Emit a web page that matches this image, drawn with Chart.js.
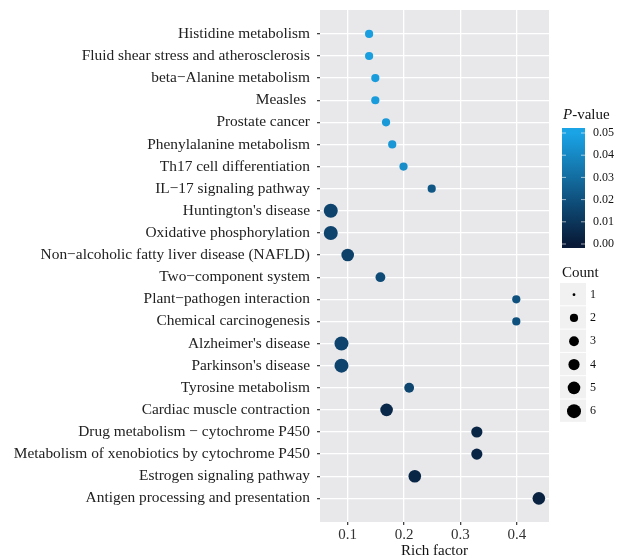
<!DOCTYPE html>
<html>
<head>
<meta charset="utf-8">
<script src="https://cdn.jsdelivr.net/npm/chart.js@4.4.0/dist/chart.umd.min.js"></script>
<style>
  html, body { margin: 0; padding: 0; background: #ffffff; }
  #wrap { width: 624px; height: 560px; position: relative; }
</style>
</head>
<body>
<div id="wrap"><canvas id="dotChart" width="624" height="560"></canvas></div>
<script>
// pathways, top to bottom
const pathways = [
    "Histidine metabolism",
    "Fluid shear stress and atherosclerosis",
    "beta\u2212Alanine metabolism",
    "Measles ",
    "Prostate cancer",
    "Phenylalanine metabolism",
    "Th17 cell differentiation",
    "IL\u221217 signaling pathway",
    "Huntington's disease",
    "Oxidative phosphorylation",
    "Non\u2212alcoholic fatty liver disease (NAFLD)",
    "Two\u2212component system",
    "Plant\u2212pathogen interaction",
    "Chemical carcinogenesis",
    "Alzheimer's disease",
    "Parkinson's disease",
    "Tyrosine metabolism",
    "Cardiac muscle contraction",
    "Drug metabolism \u2212 cytochrome P450",
    "Metabolism of xenobiotics by cytochrome P450",
    "Estrogen signaling pathway",
    "Antigen processing and presentation"
];
const richFactor = [0.138, 0.138, 0.149, 0.149, 0.168, 0.179, 0.199, 0.249, 0.070, 0.070, 0.100,
                    0.158, 0.399, 0.399, 0.089, 0.089, 0.209, 0.169, 0.329, 0.329, 0.219, 0.439];
const geneCount = [2, 2, 2, 2, 2, 2, 2, 2, 6, 6, 5, 3, 2, 2, 6, 6, 3, 5, 4, 4, 5, 5];
const pValue = [0.048, 0.048, 0.047, 0.047, 0.046, 0.045, 0.042, 0.022, 0.015, 0.015, 0.014,
                0.018, 0.020, 0.020, 0.015, 0.015, 0.016, 0.005, 0.004, 0.004, 0.004, 0.003];
const xTicks = [0.1, 0.2, 0.3, 0.4];
const pTicks = [0.00, 0.01, 0.02, 0.03, 0.04, 0.05];
const countTicks = [1, 2, 3, 4, 5, 6];

// styling
const SERIF = "'Liberation Serif', 'Times New Roman', serif";
const radiusByCount = [1.4, 4.1, 4.9, 5.6, 6.3, 7.0];
const lowColor = [8, 26, 56];
const highColor = [26, 164, 230];
const pMax = 0.05;

function pColor(p) {
    const t = Math.max(0, Math.min(1, p / pMax));
    const c = lowColor.map((v, i) => Math.round(v + (highColor[i] - v) * t));
    return `rgb(${c[0]},${c[1]},${c[2]})`;
}

const points = pathways.map((name, i) => ({ x: richFactor[i], y: i + 1 }));

// grey panel behind the plot
const panelBg = {
    id: 'panelBg',
    beforeDraw(chart) {
        const { ctx, chartArea: a } = chart;
        ctx.save();
        ctx.fillStyle = '#e8e8eb';
        ctx.fillRect(a.left, a.top, a.right - a.left, a.bottom - a.top);
        ctx.restore();
    }
};

// colourbar + size legend on the right
const sideLegends = {
    id: 'sideLegends',
    afterDraw(chart) {
        const ctx = chart.ctx;
        ctx.save();
        ctx.textBaseline = 'middle';
        ctx.fillStyle = '#111';

        // P-value title
        ctx.font = `italic 15px ${SERIF}`;
        ctx.textAlign = 'left';
        ctx.fillText('P', 563, 115);
        const pw = ctx.measureText('P').width;
        ctx.font = `15px ${SERIF}`;
        ctx.fillText('-value', 563 + pw, 115);

        // colour bar
        const barX = 562, barW = 23, barTop = 128, barBot = 248;
        const tTop = 133, tBot = 244;
        const grad = ctx.createLinearGradient(0, tBot, 0, tTop);
        for (let k = 0; k <= 10; k++) {
            grad.addColorStop(k / 10, pColor(pMax * k / 10));
        }
        ctx.fillStyle = grad;
        ctx.fillRect(barX, barTop, barW, barBot - barTop);
        ctx.fillStyle = pColor(pMax);
        ctx.fillRect(barX, barTop, barW, tTop - barTop);
        ctx.fillStyle = pColor(0);
        ctx.fillRect(barX, tBot, barW, barBot - tBot);

        ctx.font = `12px ${SERIF}`;
        pTicks.forEach(p => {
            const y = tBot - (tBot - tTop) * p / pMax;
            ctx.strokeStyle = 'rgba(255,255,255,0.6)';
            ctx.lineWidth = 1;
            ctx.beginPath();
            ctx.moveTo(barX, y); ctx.lineTo(barX + 4, y);
            ctx.moveTo(barX + barW - 4, y); ctx.lineTo(barX + barW, y);
            ctx.stroke();
            ctx.fillStyle = '#111';
            ctx.fillText(p.toFixed(2), 593, y);
        });

        // Count legend
        ctx.font = `15px ${SERIF}`;
        ctx.fillText('Count', 562, 273);
        const rowTop = 283, rowH = 23.3;
        ctx.font = `12px ${SERIF}`;
        countTicks.forEach((c, i) => {
            const y0 = rowTop + i * rowH;
            ctx.fillStyle = '#f1f1f1';
            ctx.fillRect(560, y0, 26, rowH - 1);
            ctx.fillStyle = '#000';
            ctx.beginPath();
            ctx.arc(574, y0 + rowH / 2, radiusByCount[c - 1], 0, Math.PI * 2);
            ctx.fill();
            ctx.fillStyle = '#111';
            ctx.fillText(String(c), 590, y0 + rowH / 2);
        });
        ctx.restore();
    }
};

new Chart(document.getElementById('dotChart'), {
    type: 'scatter',
    data: {
        datasets: [{
            label: 'Rich factor',
            data: points,
            pointRadius: ctx => radiusByCount[geneCount[ctx.dataIndex] - 1],
            pointHoverRadius: ctx => radiusByCount[geneCount[ctx.dataIndex] - 1],
            pointBackgroundColor: ctx => pColor(pValue[ctx.dataIndex]),
            pointBorderWidth: 0,
            pointBorderColor: 'rgba(0,0,0,0)'
        }]
    },
    options: {
        responsive: false,
        animation: false,
        events: [],
        layout: { padding: { top: 10, right: 75, left: 0, bottom: 0 } },
        plugins: {
            legend: { display: false },
            tooltip: { enabled: false }
        },
        scales: {
            x: {
                type: 'linear',
                min: 0.0509,
                max: 0.457,
                afterFit: scale => {
                    scale.height = 38;
                    scale.paddingLeft = 0;
                    scale.paddingRight = 0;
                },
                afterBuildTicks: scale => { scale.ticks = xTicks.map(v => ({ value: v })); },
                ticks: {
                    callback: v => v.toFixed(1),
                    font: { family: SERIF, size: 15 },
                    color: '#333',
                    padding: 1,
                    maxRotation: 0
                },
                grid: { color: '#ffffff', lineWidth: 1.3, tickLength: 3, tickColor: '#444' },
                border: { display: false },
                title: {
                    display: true,
                    text: 'Rich factor',
                    font: { family: SERIF, size: 15 },
                    color: '#111',
                    padding: { top: 0, bottom: 0 }
                }
            },
            y: {
                type: 'linear',
                reverse: true,
                min: -0.08,
                max: 23.07,
                afterFit: scale => {
                    scale.width = 320;
                    scale.paddingTop = 0;
                    scale.paddingBottom = 0;
                },
                afterBuildTicks: scale => { scale.ticks = pathways.map((n, i) => ({ value: i + 1 })); },
                ticks: {
                    autoSkip: false,
                    callback: v => pathways[Math.round(v) - 1],
                    font: { family: SERIF, size: 15.4 },
                    color: '#222',
                    padding: 7
                },
                grid: { color: '#ffffff', lineWidth: 1.3, tickLength: 3, tickColor: '#444' },
                border: { display: false }
            }
        }
    },
    plugins: [panelBg, sideLegends]
});
</script>
</body>
</html>
